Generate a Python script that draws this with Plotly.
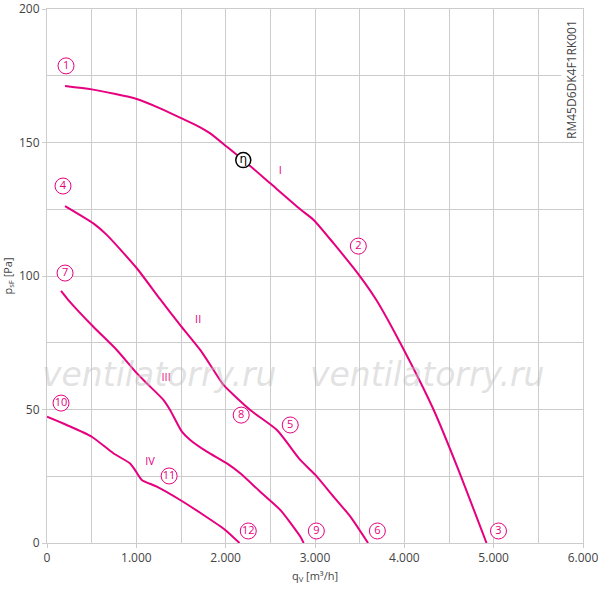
import plotly.graph_objects as go

# fan curves, q_V in m3/h, p_sF in Pa
q_I = [202, 501, 1005, 1266, 1510, 1715, 1827, 2014, 2219, 2499, 2835, 2985, 3209,
       3508, 3687, 3956, 4329, 4591, 4920]
p_I = [171.2, 169.9, 166.3, 162.8, 159.0, 155.7, 153.4, 148.4, 142.8, 134.7, 125.0,
       121.0, 112.2, 99.7, 91.0, 74.8, 49.8, 28.6, 0]

q_II = [202, 519, 669, 1005, 1266, 1491, 1715, 1864, 1976, 2275, 2574, 2835, 3004,
        3209, 3396, 3594]
p_II = [126.2, 119.7, 115.4, 102.9, 91.3, 81.6, 72.3, 64.8, 59.2, 49.8, 42.3, 31.1,
        25.5, 17.3, 9.9, 0]

q_III = [157, 239, 519, 781, 1005, 1117, 1303, 1378, 1510, 1603, 1790, 2014, 2163,
         2387, 2611, 2835, 2873]
p_III = [94.4, 91.0, 81.0, 72.3, 63.6, 59.8, 53.6, 49.8, 41.7, 38.6, 34.2, 29.8,
         26.1, 19.2, 12.4, 2.4, 0]

q_IV = [0, 220, 501, 743, 930, 986, 1061, 1229, 1491, 1752, 1995, 2155]
p_IV = [47.3, 44.2, 39.8, 33.6, 29.8, 27.3, 23.6, 21.1, 16.1, 10.5, 4.9, 0]

# numbered operating points
num_labels = ["1", "2", "3", "4", "5", "6", "7", "8", "9", "10", "11", "12"]
num_q = [213, 3485, 5054, 179, 2723, 3698, 202, 2174, 3015, 157, 1367, 2253]
num_p = [178.7, 111.2, 4.5, 133.7, 44.2, 4.5, 101.1, 47.9, 4.5, 52.4, 25.1, 4.5]

# speed step labels
step_labels = ["I", "II", "III", "IV"]
step_q = [2611, 1692, 1334, 1154]
step_p = [139.3, 83.5, 61.8, 30.3]

eta_q = [2197]
eta_p = [143.4]

pink = "#e6007e"

fig = go.Figure()
for q, p in [(q_I, p_I), (q_II, p_II), (q_III, p_III), (q_IV, p_IV)]:
    fig.add_trace(go.Scatter(x=q, y=p, mode="lines",
                             line=dict(color=pink, width=2, shape="spline", smoothing=0.6),
                             showlegend=False, hoverinfo="skip"))

fig.add_trace(go.Scatter(x=num_q, y=num_p, mode="markers+text", text=num_labels,
                         textposition="middle center",
                         textfont=dict(color=pink, size=11, family="Open Sans"),
                         marker=dict(symbol="circle", size=16, color="white",
                                     line=dict(color=pink, width=1)),
                         showlegend=False, hoverinfo="skip"))

fig.add_trace(go.Scatter(x=step_q, y=step_p, mode="text", text=step_labels,
                         textfont=dict(color=pink, size=11, family="Open Sans"),
                         showlegend=False, hoverinfo="skip"))

fig.add_trace(go.Scatter(x=eta_q, y=eta_p, mode="markers+text", text=["η"],
                         textposition="middle center",
                         textfont=dict(color="black", size=12, family="DejaVu Sans"),
                         marker=dict(symbol="circle", size=15, color="white",
                                     line=dict(color="black", width=1.5)),
                         showlegend=False, hoverinfo="skip"))

# watermark
for wx in [1250, 4250]:
    fig.add_annotation(x=wx, y=63, text="<i>ventilatorry.ru</i>", showarrow=False,
                       font=dict(size=33, color="rgba(190,190,190,0.45)",
                                 family="DejaVu Sans"),
                       xanchor="center", yanchor="middle")

fig.add_annotation(x=1, xref="paper", y=1, yref="paper", xshift=-1, yshift=-9,
                   text="RM45D6DK4F1RK001", textangle=-90, showarrow=False,
                   xanchor="right", yanchor="top", bgcolor="white",
                   font=dict(size=12, color="#444", family="Open Sans"))

fig.update_layout(
    width=600, height=590,
    margin=dict(l=47, r=17, t=9, b=47),
    plot_bgcolor="white", paper_bgcolor="white",
    separators=",.",
    font=dict(family="Open Sans", color="#444", size=12),
    xaxis=dict(range=[0, 6000], tickvals=[0, 1000, 2000, 3000, 4000, 5000, 6000],
               tickformat=",", showgrid=True, gridcolor="#cccccc", gridwidth=1,
               showline=True, linecolor="#cccccc", ticks="outside", ticklen=4,
               tickcolor="#cccccc", zeroline=False, mirror=True, automargin=False,
               title=dict(text="q<sub>V</sub> [m³/h]", font=dict(size=11), standoff=6),
               minor=dict(tickvals=[500, 1500, 2500, 3500, 4500, 5500], showgrid=True,
                          gridcolor="#cccccc")),
    yaxis=dict(range=[0, 200], tickvals=[0, 50, 100, 150, 200],
               showgrid=True, gridcolor="#cccccc", gridwidth=1,
               showline=True, linecolor="#cccccc", ticks="outside", ticklen=4,
               tickcolor="#cccccc", zeroline=False, mirror=True, automargin=False,
               title=dict(text="p<sub>sF</sub> [Pa]", font=dict(size=11), standoff=4),
               minor=dict(tickvals=[25, 75, 125, 175], showgrid=True,
                          gridcolor="#cccccc")),
)

# drop the page's default body margin so the figure sits at the window corner
fig.write_html("out.html", config={"displayModeBar": False},
               post_script="document.body.style.margin='0';")
